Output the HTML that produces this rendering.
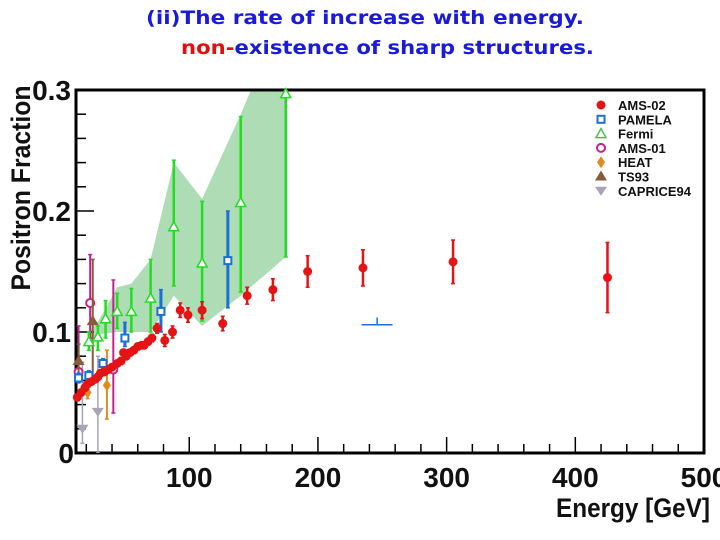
<!DOCTYPE html>
<html><head><meta charset="utf-8"><style>
body{margin:0;background:#fff;width:720px;height:540px;overflow:hidden}
svg{display:block}
</style></head><body>
<svg id="c" width="720" height="540" xmlns="http://www.w3.org/2000/svg" font-family="Liberation Sans, sans-serif">
<text x="146" y="24" textLength="438" lengthAdjust="spacingAndGlyphs" font-family="DejaVu Sans, sans-serif" font-weight="bold" font-size="19" fill="#1a1adb">(ii)The rate of increase with energy.</text>
<text x="181" y="54" textLength="413" lengthAdjust="spacingAndGlyphs" font-family="DejaVu Sans, sans-serif" font-weight="bold" font-size="19" fill="#1a1adb"><tspan fill="#e01010">non-</tspan>existence of sharp structures.</text>
<text transform="translate(30,188) rotate(-90)" text-anchor="middle" font-weight="bold" font-size="27" fill="#111" textLength="205" lengthAdjust="spacingAndGlyphs">Positron Fraction</text>
<text x="710" y="517" text-anchor="end" font-weight="bold" font-size="27" fill="#111" textLength="154" lengthAdjust="spacingAndGlyphs">Energy [GeV]</text>
<g id="plot"></g>
</svg>
<script>
const amsE=[13,16,19,21,24,27,29,31,34,37,40,44,47,49,51,54,57,60,63,65,68,71,75,81,87,93,99,110,126,145,165,192,235,305,425];
const amsV=[.046,.050,.054,.057,.059,.061,.063,.066,.067,.069,.071,.074,.076,.083,.080,.083,.085,.088,.089,.089,.092,.095,.103,.093,.100,.118,.114,.118,.107,.130,.135,.150,.153,.158,.145];
const amsErr=[.002,.002,.002,.002,.002,.002,.002,.002,.002,.002,.002,.002,.002,.002,.002,.002,.002,.002,.002,.002,.002,.003,.004,.005,.005,.006,.006,.007,.006,.007,.009,.013,.015,.018,.029];
const fermiE=[22,29,35,44,55,70,88,110,140,175];
const fermiV=[.092,.096,.111,.117,.117,.128,.187,.157,.207,.297];
const fermiLo=[.085,.085,.095,.103,.100,.100,.138,.109,.133,.162];
const fermiHi=[.100,.105,.126,.132,.136,.160,.242,.208,.278,.300];
const bandE=[22,30,44,55,70,88,110,140,160,175,175,140,110,88,70,44,30,22];
const bandV=[.100,.110,.137,.140,.160,.240,.210,.280,.330,.330,.162,.130,.105,.130,.100,.100,.098,.090];
const pamE=[14,22,33,50,78,130];
const pamV=[.062,.064,.074,.095,.117,.159];
const pamLo=[.058,.060,.070,.088,.100,.120];
const pamHi=[.066,.068,.078,.108,.135,.200];
const a01E=[14,23,41];const a01V=[.067,.124,.069];const a01Lo=[.058,.095,.033];const a01Hi=[.105,.164,.143];
const heatE=[21,36];const heatV=[.050,.056];const heatLo=[.045,.028];const heatHi=[.056,.085];
const tsE=[14,25];const tsV=[.076,.109];const tsLo=[.060,.060];const tsHi=[.090,.160];
const capE=[17,29];const capV=[.020,.034];const capLo=[.008,.000];const capHi=[.075,.080];
const xTicks=[0,100,200,300,400,500];
const yTicks=[0,0.1,0.2,0.3];
const legendNames=['AMS-02','PAMELA','Fermi','AMS-01','HEAT','TS93','CAPRICE94'];

const L=76,R=704,T=90,B=453,XMIN=12,XMAX=500,YMAX=0.3;
const X=e=>L+(e-XMIN)*(R-L)/(XMAX-XMIN);
const Y=v=>B-v*(B-T)/YMAX;
const NS='http://www.w3.org/2000/svg';
const g=document.getElementById('plot');
function mk(tag,at,parent){const el=document.createElementNS(NS,tag);for(const k in at)el.setAttribute(k,at[k]);(parent||g).appendChild(el);return el;}
const defs=mk('defs',{});const cp=mk('clipPath',{id:'clip'},defs);mk('rect',{x:L,y:T,width:R-L,height:B-T},cp);
const band=mk('polygon',{points:bandE.map((e,i)=>X(e)+','+Y(bandV[i])).join(' '),fill:'#9fd6a8',opacity:'0.85','clip-path':'url(#clip)'});


const fr=mk('rect',{x:L,y:T,width:R-L,height:B-T,fill:'none',stroke:'#000','stroke-width':3});


for(let v=0;v<=500;v+=20){if(X(v)<L+2)continue;const major=v%100===0;mk('line',{x1:X(v),x2:X(v),y1:B,y2:B-(major?16:9),stroke:'#000','stroke-width':1.5});}
for(let v=0.02;v<0.3;v+=0.02){mk('line',{x1:L,x2:L+(Math.abs(v*10-Math.round(v*10))<1e-6?18:10),y1:Y(v),y2:Y(v),stroke:'#000','stroke-width':1.5});}
xTicks.forEach(t=>{if(t===0)return;const tx=mk('text',{x:X(t),y:487,'text-anchor':'middle','font-weight':'bold','font-size':28,fill:'#111'});tx.textContent=t;

});
const z=mk('text',{x:L-2,y:463,'text-anchor':'end','font-weight':'bold','font-size':28,fill:'#111'});z.textContent='0';


yTicks.forEach(t=>{if(t===0)return;const tx=mk('text',{x:L-5,y:Y(t)+10,'text-anchor':'end','font-weight':'bold','font-size':28,fill:'#111'});tx.textContent=t.toFixed(1);

});
function marker(type,x,y,col){
 if(type==='circle')return mk('circle',{cx:x,cy:y,r:4.5,fill:col});
 if(type==='square')return mk('rect',{x:x-3.5,y:y-3.5,width:7,height:7,fill:'#fff',stroke:col,'stroke-width':2});
 if(type==='tri')return mk('polygon',{points:`${x},${y-5} ${x-5},${y+4} ${x+5},${y+4}`,fill:'#fff',stroke:col,'stroke-width':1.5});
 if(type==='ocircle')return mk('circle',{cx:x,cy:y,r:4,fill:'#fff',stroke:col,'stroke-width':2});
 if(type==='diamond')return mk('polygon',{points:`${x},${y-6} ${x+4},${y} ${x},${y+6} ${x-4},${y}`,fill:col});
 if(type==='utri')return mk('polygon',{points:`${x},${y-6} ${x-6},${y+4} ${x+6},${y+4}`,fill:col});
 return mk('polygon',{points:`${x-6},${y-4} ${x+6},${y-4} ${x},${y+5}`,fill:col});
}
function series(name,E,V,lo,hi,type,col,w){
 E.forEach((e,i)=>{const x=X(e);
  const l=mk('line',{x1:x,x2:x,y1:Y(lo[i]),y2:Y(hi[i]),stroke:col,'stroke-width':w,'clip-path':'url(#clip)'});
  
  
  [lo[i],hi[i]].forEach(v=>mk('line',{x1:x-2,x2:x+2,y1:Y(v),y2:Y(v),stroke:col,'stroke-width':1.5,'clip-path':'url(#clip)'}));
  const m=marker(type,x,Y(V[i]),col);
  
  
 });
}
series('caprice94',capE,capV,capLo,capHi,'dtri','#a8a4b8',1.5);
series('heat',heatE,heatV,heatLo,heatHi,'diamond','#e08a20',2);
series('ams01',a01E,a01V,a01Lo,a01Hi,'ocircle','#c8208c',2);
series('ts93',tsE,tsV,tsLo,tsHi,'utri','#8a5a3c',2);
series('fermi',fermiE,fermiV,fermiLo,fermiHi,'tri','#22dd22',2.5);
series('pamela',pamE,pamV,pamLo,pamHi,'square','#1a70d8',3);
series('ams02',amsE,amsV,amsV.map((v,i)=>v-amsErr[i]),amsV.map((v,i)=>v+amsErr[i]),'circle','#e41414',2.5);
const pl=mk('line',{x1:X(234),x2:X(258),y1:Y(0.106),y2:Y(0.106),stroke:'#1a70d8','stroke-width':1.5});


mk('line',{x1:X(246),x2:X(246),y1:Y(0.106),y2:Y(0.112),stroke:'#1a70d8','stroke-width':1.5});
const lt=['circle','square','tri','ocircle','diamond','utri','dtri'];
const lc=['#e41414','#1a70d8','#55bb55','#c8208c','#e08a20','#8a5a3c','#a8a4b8'];
legendNames.forEach((n,i)=>{const y=105+i*14.3;
 const m=marker(lt[i],601,y,lc[i]);
 
 
 const t=mk('text',{x:618,y:y+5,'font-weight':'bold','font-size':13,fill:'#111'});t.textContent=n;
 
 
});
</script>
</body></html>
